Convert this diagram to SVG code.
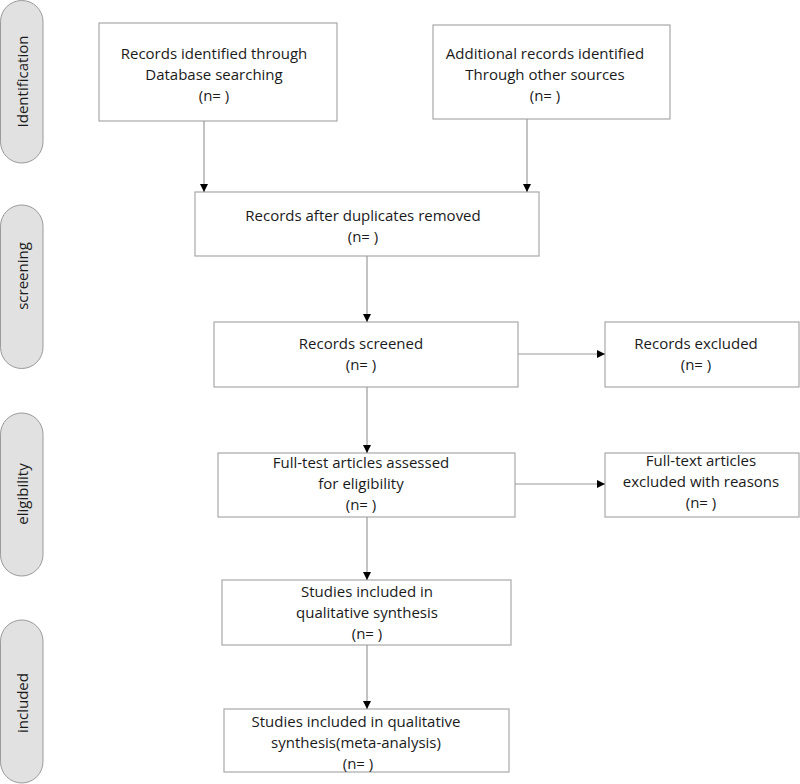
<svg xmlns="http://www.w3.org/2000/svg" width="800" height="784" viewBox="0 0 800 784">
<defs>
<style>
.pill{fill:#e1e1e1;stroke:#9a9a9a;stroke-width:1}
.box{fill:#fff;stroke:#a8a8a8;stroke-width:1.2}
.t{font-family:"Open Sans","Liberation Sans",sans-serif;font-size:15px;fill:#1a1a1a;text-anchor:middle}
.c{fill:none;stroke:#9a9a9a;stroke-width:1.2}
</style>
<marker id="ah" viewBox="0 0 10 10" refX="10" refY="5" markerWidth="8" markerHeight="8" markerUnits="userSpaceOnUse" orient="auto">
<path d="M0,0 L10,5 L0,10 z" fill="#000"/>
</marker>
</defs>
<rect width="800" height="784" fill="#fff"/>
<g id="stage-identification">
<rect class="pill" x="0.5" y="0.5" width="42.5" height="162.5" rx="21.25"/>
<text class="t" transform="translate(22,81.5) rotate(-90)" dominant-baseline="central">Identification</text>
</g>
<g id="stage-screening">
<rect class="pill" x="0.5" y="205" width="42.5" height="163.5" rx="21.25"/>
<text class="t" transform="translate(22,276) rotate(-90)" dominant-baseline="central">screening</text>
</g>
<g id="stage-eligibility">
<rect class="pill" x="0.5" y="413" width="42.5" height="163" rx="21.25"/>
<text class="t" transform="translate(22,494) rotate(-90)" dominant-baseline="central">eligibility</text>
</g>
<g id="stage-included">
<rect class="pill" x="0.5" y="620" width="42.5" height="163" rx="21.25"/>
<text class="t" transform="translate(22,703) rotate(-90)" dominant-baseline="central">included</text>
</g>
<g id="n-db">
<rect class="box" x="99" y="23" width="238" height="98"/>
<text class="t" x="214" y="59">Records identified through</text>
<text class="t" x="214" y="80">Database searching</text>
<text class="t" x="214" y="101">(n= )</text>
</g>
<g id="n-other">
<rect class="box" x="433" y="25" width="237" height="94"/>
<text class="t" x="545" y="59">Additional records identified</text>
<text class="t" x="545" y="80">Through other sources</text>
<text class="t" x="545" y="101">(n= )</text>
</g>
<g id="n-dup">
<rect class="box" x="195" y="192" width="344" height="64"/>
<text class="t" x="363" y="221">Records after duplicates removed</text>
<text class="t" x="363" y="242">(n= )</text>
</g>
<g id="n-screened">
<rect class="box" x="214" y="322" width="304" height="65"/>
<text class="t" x="361" y="349">Records screened</text>
<text class="t" x="361" y="370">(n= )</text>
</g>
<g id="n-excluded">
<rect class="box" x="605" y="322" width="194" height="65"/>
<text class="t" x="696" y="349">Records excluded</text>
<text class="t" x="696" y="370">(n= )</text>
</g>
<g id="n-fulltest">
<rect class="box" x="218" y="453" width="297" height="64"/>
<text class="t" x="361" y="468">Full-test articles assessed</text>
<text class="t" x="361" y="489">for eligibility</text>
<text class="t" x="361" y="510">(n= )</text>
</g>
<g id="n-fulltext-excl">
<rect class="box" x="605" y="453" width="194" height="64"/>
<text class="t" x="701" y="466">Full-text articles</text>
<text class="t" x="701" y="487">excluded with reasons</text>
<text class="t" x="701" y="508">(n= )</text>
</g>
<g id="n-qual">
<rect class="box" x="222" y="580" width="289" height="65"/>
<text class="t" x="367" y="597">Studies included in</text>
<text class="t" x="367" y="618">qualitative synthesis</text>
<text class="t" x="367" y="639">(n= )</text>
</g>
<g id="n-meta">
<rect class="box" x="224" y="709" width="285" height="63"/>
<text class="t" x="356" y="727">Studies included in qualitative</text>
<text class="t" x="356" y="748">synthesis(meta-analysis)</text>
<text class="t" x="358" y="769">(n= )</text>
</g>
<g id="connectors">
<line class="c" x1="204" y1="121" x2="204" y2="192" marker-end="url(#ah)"/>
<line class="c" x1="527" y1="119" x2="527" y2="192" marker-end="url(#ah)"/>
<line class="c" x1="367" y1="256" x2="367" y2="322" marker-end="url(#ah)"/>
<line class="c" x1="367" y1="387" x2="367" y2="453" marker-end="url(#ah)"/>
<line class="c" x1="367" y1="517" x2="367" y2="580" marker-end="url(#ah)"/>
<line class="c" x1="367" y1="645" x2="367" y2="709" marker-end="url(#ah)"/>
<line class="c" x1="518" y1="354" x2="605" y2="354" marker-end="url(#ah)"/>
<line class="c" x1="515" y1="484" x2="605" y2="484" marker-end="url(#ah)"/>
</g>
</svg>
